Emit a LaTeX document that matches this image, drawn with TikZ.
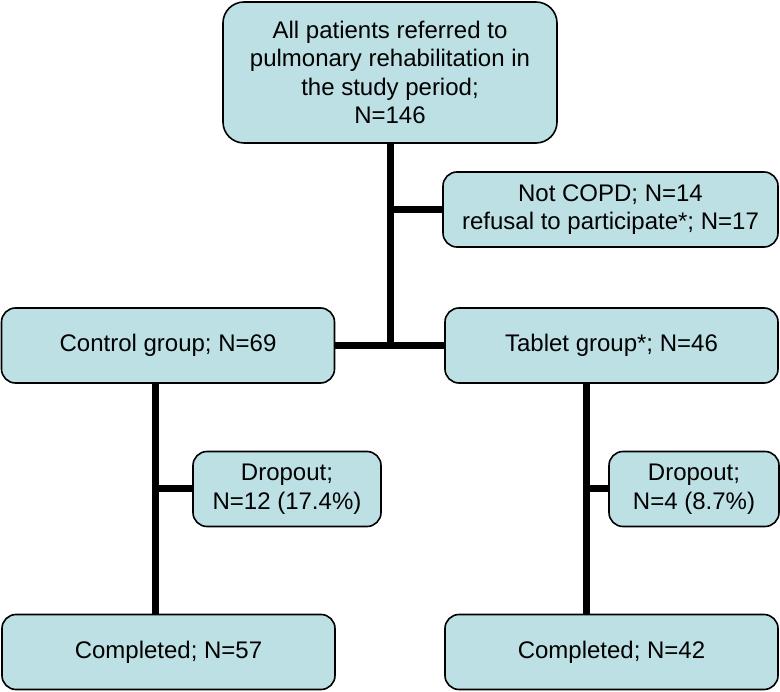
\documentclass[tikz,border=0pt]{standalone}
\usepackage{fontspec}
\setmainfont{Liberation Sans}
\usetikzlibrary{calc}

\definecolor{boxfill}{HTML}{BCE0E4}

\tikzset{box/.style={draw=black, line width=1.6pt, fill=boxfill, rounded corners=14pt, inner sep=0pt, align=center, font=\fontsize{24}{28.5}\selectfont},
	link/.style={draw=black, line width=7pt}}

\begin{document}
\begin{tikzpicture}[x=1pt,y=-1pt] % flow chart
		\newcommand{\boxHeight}{75}
		\newcommand{\wideBox}{333}
		
		\useasboundingbox (0,0) rectangle (780,692);	% page
		
		% boxes
		\node[box, rounded corners=21pt, minimum width=334, minimum height=141] (all) at (390,72.5) {All patients referred to\\pulmonary rehabilitation in\\the study period;\\N=146};
		\node[box, minimum width=335, minimum height=\boxHeight] (excl) at (610.5,209.5) {Not COPD; N=14\\refusal to participate*; N=17};
		\node[box, minimum width=\wideBox, minimum height=\boxHeight] (ctrl) at (168,345.5) {Control group; N=69};
		\node[box, minimum width=\wideBox, minimum height=\boxHeight] (tab) at (611.5,345.5) {Tablet group*; N=46};
		\node[box, minimum width=188, minimum height=\boxHeight] (dropL) at (287,489) {Dropout;\\N=12 (17.4\%)};
		\node[box, minimum width=170, minimum height=\boxHeight] (dropR) at (694,489) {Dropout;\\N=4 (8.7\%)};
		\node[box, minimum width=\wideBox, minimum height=\boxHeight] (doneL) at (168.5,652) {Completed; N=57};
		\node[box, minimum width=\wideBox, minimum height=\boxHeight] (doneR) at (611.5,652) {Completed; N=42};
		
		% branch points
		\coordinate (splitL) at (155,489);
		\coordinate (splitR) at (586,489);
		
		% trunk
		\draw[link] (all.south) -- (all.south |- ctrl.east);
		\draw[link] (all.south |- excl.west) -- (excl.west);
		\draw[link] (ctrl.east) -- (tab.west);
		
		% left arm
		\draw[link] (splitL |- ctrl.south) -- (splitL |- doneL.north);
		\draw[link] (splitL) -- (dropL.west);
		
		% right arm
		\draw[link] (splitR |- tab.south) -- (splitR |- doneR.north);
		\draw[link] (splitR) -- (dropR.west);
		\end{tikzpicture}
\end{document}
